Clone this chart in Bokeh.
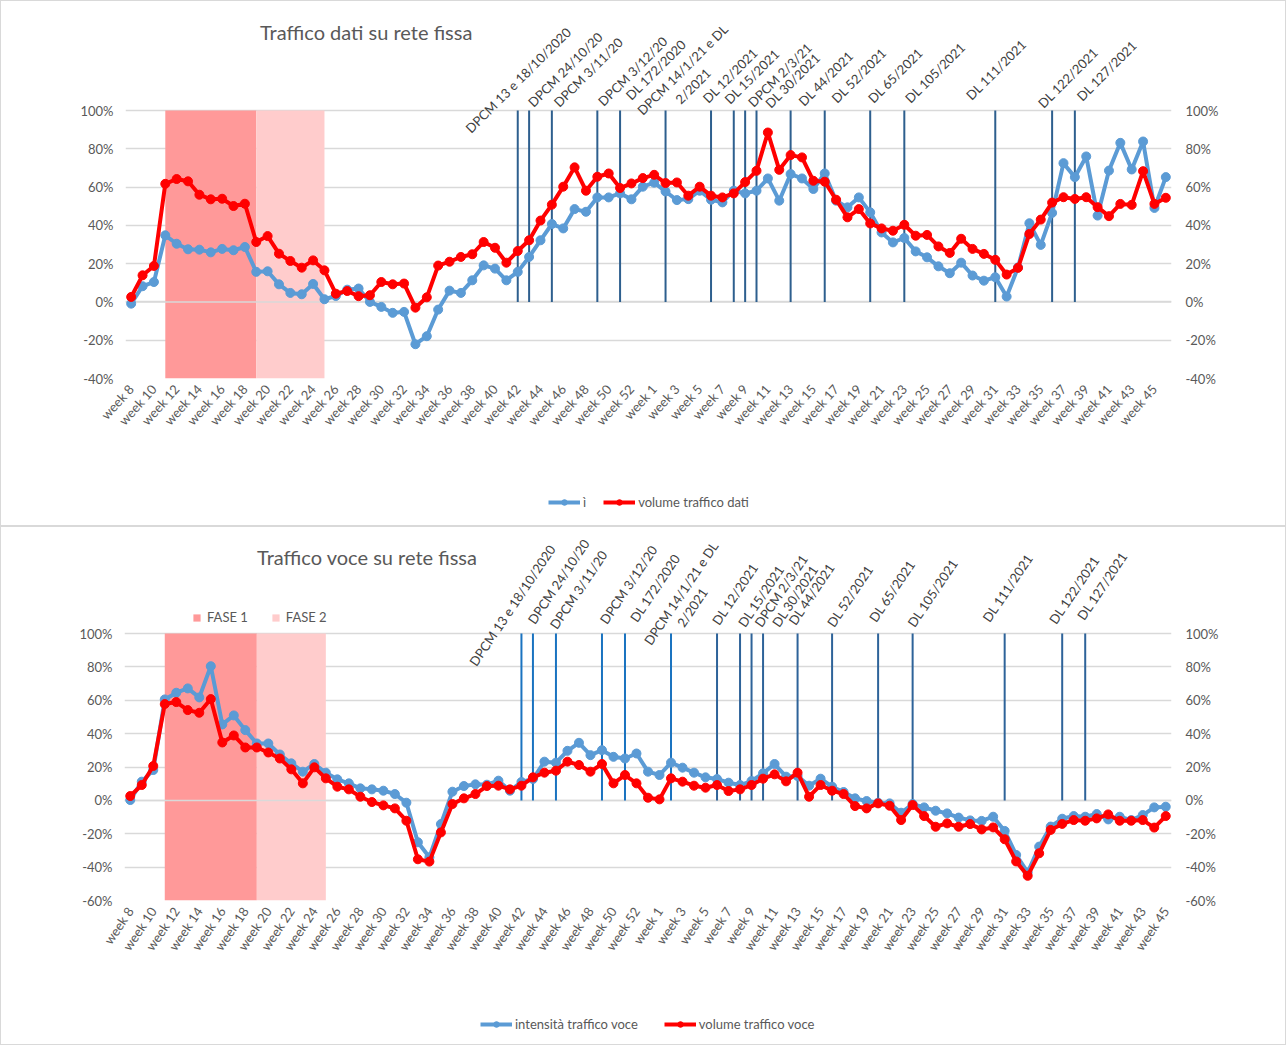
import math
from bokeh.plotting import figure
from bokeh.layouts import column
from bokeh.models import (Range1d, LinearAxis, FixedTicker, PrintfTickFormatter,
                          CustomJSTickFormatter, Label, Legend, LegendItem)
from bokeh.embed import file_html
from bokeh.resources import INLINE

# ---------------- data ----------------
weeks_dati = ["week %d" % w for w in range(8, 54)] + ["week %d" % w for w in range(1, 47)]
weeks_voce = ["week %d" % w for w in range(8, 54)] + ["week %d" % w for w in range(1, 46)]

dati_intensita = [
    -0.9, 8.2, 10.4, 34.8, 30.4, 27.5, 27.3, 25.9, 27.7, 27.0,
    28.7, 15.7, 16.0, 9.2, 4.7, 4.0, 9.4, 1.4, 3.1, 6.4,
    7.0, 0.0, -2.6, -5.7, -5.2, -22.1, -17.9, -4.0, 5.9, 4.7,
    11.3, 19.1, 17.4, 11.3, 15.7, 23.5, 32.2, 40.7, 38.4, 48.5,
    47.1, 54.6, 54.6, 56.7, 53.6, 60.2, 62.3, 57.7, 53.2, 53.7,
    58.1, 53.4, 52.0, 58.1, 56.7, 58.1, 64.5, 52.9, 66.8, 64.5,
    59.0, 67.1, 52.9, 49.4, 54.6, 46.8, 36.3, 31.1, 33.4, 26.4,
    23.3, 18.6, 15.0, 20.5, 13.8, 11.1, 12.9, 2.8, 18.0, 41.1,
    29.8, 46.5, 72.5, 65.2, 76.0, 45.1, 68.6, 83.1, 69.2, 83.8,
    49.1, 65.2]
dati_volume = [
    2.6, 13.9, 18.8, 61.7, 64.2, 63.0, 56.0, 53.6, 53.9, 50.1,
    51.3, 31.3, 34.4, 25.2, 21.4, 17.9, 21.7, 16.5, 4.3, 5.7,
    3.0, 3.5, 10.4, 9.2, 9.6, -3.0, 2.4, 19.0, 21.0, 23.5,
    24.9, 31.3, 28.3, 20.5, 26.6, 32.2, 42.5, 50.8, 60.2, 70.3,
    58.1, 65.4, 67.1, 59.5, 61.9, 64.7, 66.4, 62.1, 62.4, 55.5,
    60.2, 55.5, 54.6, 56.7, 62.6, 68.5, 88.5, 69.0, 76.7, 75.5,
    63.3, 62.8, 53.4, 44.2, 48.5, 41.0, 38.4, 37.2, 40.3, 34.6,
    35.0, 29.0, 25.6, 33.0, 27.7, 25.1, 22.0, 14.3, 17.8, 35.5,
    43.0, 51.9, 54.7, 53.8, 54.7, 49.5, 44.8, 51.2, 50.7, 68.3,
    51.2, 54.4]

voce_intensita = [
    0.2, 11.2, 18.2, 60.5, 64.5, 67.1, 61.7, 80.4, 45.5, 50.9,
    42.1, 34.1, 34.1, 27.5, 22.2, 17.2, 21.8, 16.6, 12.6, 10.2,
    7.2, 6.6, 5.8, 3.8, -1.4, -25.1, -34.1, -14.2, 5.2, 8.6,
    9.6, 9.4, 11.8, 5.8, 11.0, 12.8, 23.2, 22.6, 29.7, 34.5,
    27.1, 30.1, 26.1, 25.1, 28.1, 17.2, 15.2, 22.6, 19.6, 16.6,
    13.8, 12.8, 10.6, 9.2, 11.6, 16.2, 21.8, 14.2, 14.6, 8.8,
    13.0, 8.2, 5.0, 1.2, -0.4, -1.4, -1.8, -7.4, -2.2, -4.2,
    -6.2, -7.8, -10.3, -12.0, -12.3, -9.8, -18.3, -32.7, -43.2, -27.7,
    -15.7, -11.0, -9.4, -9.8, -8.2, -11.4, -9.8, -11.8, -8.8, -4.2,
    -3.8]
voce_volume = [
    2.6, 9.2, 20.6, 57.7, 58.9, 54.1, 52.5, 60.7, 34.7, 38.9,
    31.7, 31.7, 28.7, 25.1, 18.6, 10.2, 19.8, 13.2, 8.2, 6.6,
    2.2, -1.0, -3.0, -4.8, -12.2, -35.3, -36.7, -19.2, -2.2, 1.2,
    3.8, 8.6, 8.8, 6.6, 8.8, 13.8, 16.6, 17.8, 23.2, 21.2,
    17.2, 21.8, 10.2, 15.2, 10.2, 1.6, 0.6, 13.2, 11.2, 8.8,
    7.6, 9.2, 5.6, 6.6, 9.2, 13.0, 15.6, 11.4, 16.6, 2.2,
    9.2, 5.8, 3.8, -3.4, -4.8, -1.8, -3.2, -11.8, -2.8, -9.4,
    -15.8, -13.8, -15.8, -14.2, -17.4, -16.2, -23.3, -36.6, -45.2, -31.7,
    -17.7, -14.1, -11.8, -12.2, -10.8, -8.4, -12.2, -12.2, -11.8, -16.3,
    -9.4]

decreti = ["DPCM 13 e 18/10/2020", "DPCM 24/10/20", "DPCM 3/11/20", "DPCM 3/12/20",
           "DL 172/2020", "DPCM 14/1/21 e DL\n2/2021", "DL 12/2021", "DL 15/2021",
           "DPCM 2/3/21", "DL 30/2021", "DL 44/2021", "DL 52/2021", "DL 65/2021",
           "DL 105/2021", "DL 111/2021", "DL 122/2021", "DL 127/2021"]
decreti_settimana = [34, 35, 37, 41, 43, 47, 51, 53, 54, 55, 58, 61, 65, 68, 76, 81, 83]

fasi = ["FASE 1", "FASE 2"]
fasi_inizio = [3, 11]
fasi_fine = [11, 17]

# ---------------- style ----------------
FONT = "Lato"
GRAY = "#595959"
BLUE = "#5B9BD5"
RED = "#FF0000"
FASE_COLORS = ["#FF9999", "#FFCCCC"]
GRID = "#D9D9D9"
PAGE_W = 1286

# pixel offsets of each decree label start relative to the top of its line
off_dati = [(-50, -20), (1, 6), (4, 6), (3, 7), (8, 13), (-26, -2), (-6, 10), (-7, 9),
            (5, 6), (11, 5), (10, 7), (9, 10), (0, 10), (3, 10), (-27, 13), (-12, 5), (4, 12)]
off2_dati = (12, 9)
off_voce = [(-49, -31), (-2, 11), (-3, 6), (1, 11), (8, 13), (-24, -10), (-2, 10), (1, 8),
            (6, 8), (12, 8), (-6, 10), (-2, 8), (-6, 13), (-2, 8), (-19, 13), (-10, 11), (-5, 15)]
off2_voce = (9, 8)


def series(p, xs, blue, red):
    b1 = p.line(xs, blue, line_color=BLUE, line_width=4)
    b2 = p.scatter(xs, blue, size=9, fill_color=BLUE, line_color=BLUE)
    r1 = p.line(xs, red, line_color=RED, line_width=4)
    r2 = p.scatter(xs, red, size=9, fill_color=RED, line_color=RED)
    return [b1, b2], [r1, r2]


def build(cats, blue, red, ymin, ymax, plot_px, frame_w, frame_h, bl, bb,
          angle, tick_angle, offs, off2, line_colors, title, title_off, fase_legend=None):
    n = len(cats)
    xs = list(range(n))
    y_top = ymin + frame_h * (ymax - ymin) / plot_px
    p = figure(output_backend="svg", toolbar_location=None,
               frame_width=frame_w, frame_height=frame_h,
               min_border_left=bl, min_border_right=PAGE_W - bl - frame_w, min_border_top=0,
               min_border_bottom=bb,
               x_range=Range1d(-0.5, n - 0.5), y_range=Range1d(ymin, y_top))
    p.outline_line_color = None
    p.background_fill_alpha = 0
    p.border_fill_alpha = 0

    yt = FixedTicker(ticks=list(range(ymin, ymax + 1, 20)))
    p.yaxis.ticker = yt
    p.xaxis.ticker = FixedTicker(ticks=list(range(0, n, 2)))
    p.xaxis.formatter = CustomJSTickFormatter(
        args=dict(labels=cats),
        code="const i = Math.round(tick); return (i >= 0 && i < labels.length) ? labels[i] : '';")
    p.yaxis.formatter = PrintfTickFormatter(format="%d%%")
    right = LinearAxis(ticker=yt, formatter=PrintfTickFormatter(format="%d%%"))
    p.add_layout(right, "right")
    for ax in [p.xaxis[0], p.yaxis[0], right]:
        ax.axis_line_color = None
        ax.major_tick_line_color = None
        ax.minor_tick_line_color = None
        ax.major_tick_out = 0
        ax.major_tick_in = 0
        ax.major_label_text_color = GRAY
        ax.major_label_text_font = FONT
        ax.major_label_text_font_size = "13px"
    p.yaxis[0].major_label_standoff = 12
    right.major_label_standoff = 14
    p.xaxis[0].major_label_orientation = tick_angle
    p.xaxis[0].major_label_standoff = 8
    p.xgrid.visible = False
    p.ygrid.grid_line_color = GRID
    p.ygrid.grid_line_width = 1.5

    # phases
    fase_r = []
    for s, e, c in zip(fasi_inizio, fasi_fine, FASE_COLORS):
        fase_r.append(p.quad(left=[s], right=[e], bottom=[ymin], top=[ymax],
                             fill_color=c, line_color=None))
    # zero axis line above the shading
    p.segment(x0=[-0.5], x1=[n - 0.5], y0=[0], y1=[0], line_color=GRID, line_width=1.5)

    # decree lines
    for k, j in enumerate(decreti_settimana):
        p.segment(x0=[j], x1=[j], y0=[0], y1=[ymax], line_color=line_colors[k], line_width=2)

    series(p, xs, blue, red)

    # decree labels
    for k, (txt, j) in enumerate(zip(decreti, decreti_settimana)):
        parts = txt.split("\n")
        dx, dy = offs[k]
        p.add_layout(Label(x=j, y=ymax, x_offset=dx, y_offset=dy, text=parts[0], angle=angle,
                           text_font=FONT, text_font_size="13px", text_color="#404040",
                           text_align="left", text_baseline="alphabetic"))
        if len(parts) > 1:
            p.add_layout(Label(x=j, y=ymax, x_offset=off2[0], y_offset=off2[1], text=parts[1],
                               angle=angle, text_font=FONT, text_font_size="13px",
                               text_color="#404040", text_align="left",
                               text_baseline="alphabetic"))

    # title
    p.add_layout(Label(x=0, y=ymax, x_offset=title_off[0], y_offset=title_off[1], text=title,
                       text_font=FONT, text_font_size="20px", text_color=GRAY,
                       text_align="center", text_baseline="middle"))

    if fase_legend is not None:
        fl = Legend(items=[LegendItem(label=fasi[0], renderers=[fase_r[0]]),
                           LegendItem(label=fasi[1], renderers=[fase_r[1]])],
                    location=fase_legend, orientation="horizontal", glyph_width=9,
                    glyph_height=9, label_text_font=FONT, label_text_font_size="13px",
                    label_text_color=GRAY, label_standoff=6, label_width=1, spacing=23,
                    padding=0, margin=0, border_line_color=None, background_fill_alpha=0)
        p.add_layout(fl)
    return p


def legend_strip(cats, blue, red, names, height, loc, spacing):
    # strip below a chart holding its series legend (series are out of view here)
    n = len(cats)
    q = figure(output_backend="svg", toolbar_location=None, frame_width=PAGE_W,
               frame_height=height, min_border=0, x_axis_location=None, y_axis_location=None,
               x_range=Range1d(-0.5, n - 0.5), y_range=Range1d(1000, 1001))
    q.outline_line_color = None
    q.background_fill_alpha = 0
    q.border_fill_alpha = 0
    q.grid.visible = False
    b, r = series(q, list(range(n)), blue, red)
    leg = Legend(items=[LegendItem(label=names[0], renderers=b),
                        LegendItem(label=names[1], renderers=r)],
                 location=loc, orientation="horizontal", glyph_width=32, glyph_height=14,
                 label_text_font=FONT, label_text_font_size="13px", label_text_color=GRAY,
                 label_standoff=3, label_width=1, spacing=spacing, padding=0, margin=0,
                 border_line_color=None, background_fill_alpha=0)
    q.add_layout(leg)
    return q


top_colors = ["#2E5F8E"] * len(decreti_settimana)
low_colors = ["#1A73C0"] * 6 + ["#2E6399"] * (len(decreti_settimana) - 6)

# top chart: page y 0..440, frame 0..378 (268 px for -40..100), legend strip 440..526
p1 = build(weeks_dati, dati_intensita, dati_volume, -40, 100, 268, 1046, 378, 125, 62,
           math.pi / 4, math.radians(48), off_dati, off2_dati, top_colors,
           "Traffico dati su rete fissa", (235, 79))
l1 = legend_strip(weeks_dati, dati_intensita, dati_volume, ["ì", "volume traffico dati"],
                  86, (548, 16), 17)
# bottom chart: page y 526..962, frame 526..900 (267 px for -60..100), legend strip 962..1045
p2 = build(weeks_voce, voce_intensita, voce_volume, -60, 100, 267, 1047, 374, 124, 62,
           math.radians(56), math.radians(56), off_voce, off2_voce, low_colors,
           "Traffico voce su rete fissa", (237, 77), fase_legend=(68, 275))
l2 = legend_strip(weeks_voce, voce_intensita, voce_volume,
                  ["intensità traffico voce", "volume traffico voce"], 83, (480, 13), 26)

frame_style = {"box-shadow": "inset 0 0 0 1px #D9D9D9", "background": "white"}
layout = column(column(p1, l1, styles=frame_style), column(p2, l2, styles=frame_style))
open("out.html", "w").write(file_html(layout, INLINE))
